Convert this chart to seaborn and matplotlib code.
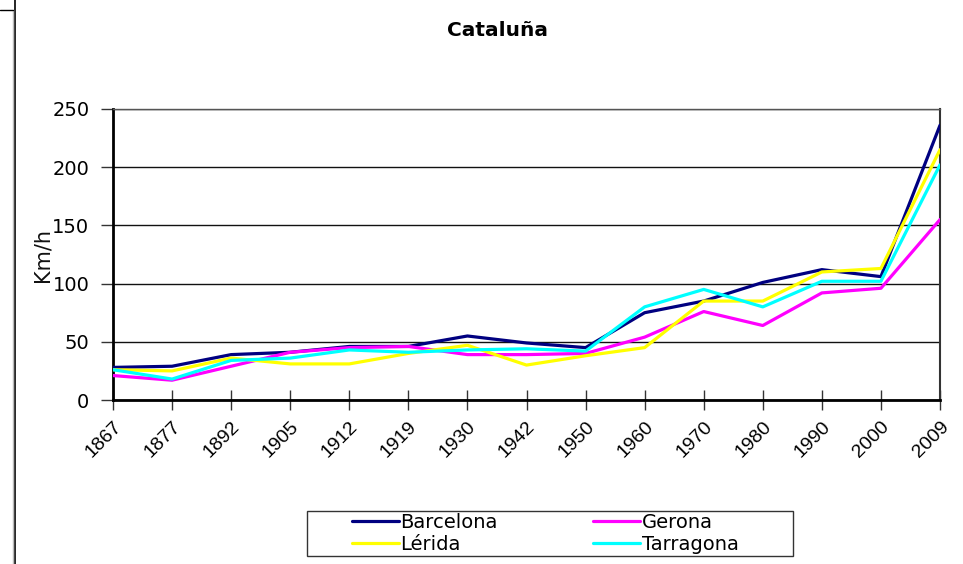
import matplotlib
matplotlib.use("Agg")
import matplotlib.pyplot as plt
from matplotlib.lines import Line2D
from matplotlib.patches import Rectangle
import seaborn as sns
import pandas as pd

years = ["1867", "1877", "1892", "1905", "1912", "1919", "1930", "1942",
         "1950", "1960", "1970", "1980", "1990", "2000", "2009"]
barcelona = [28, 29, 39, 41, 46, 46, 55, 49, 45, 75, 85, 101, 112, 106, 236]
gerona = [21, 17, 29, 41, 45, 46, 39, 39, 40, 54, 76, 64, 92, 96, 155]
lerida = [26, 25, 36, 31, 31, 40, 47, 30, 38, 45, 85, 85, 110, 113, 215]
tarragona = [26, 18, 34, 36, 43, 41, 43, 44, 42, 80, 95, 80, 102, 102, 202]

series = {"Barcelona": barcelona, "Gerona": gerona,
          "Lérida": lerida, "Tarragona": tarragona}
colors = {"Barcelona": "#000080", "Gerona": "#FF00FF",
          "Lérida": "#FFFF00", "Tarragona": "#00FFFF"}

rows = []
for name, vals in series.items():
    for i, v in enumerate(vals):
        rows.append({"pos": i, "Año": years[i], "Provincia": name, "Km/h": v})
df = pd.DataFrame(rows)

sns.set_theme(style="white")
plt.rcParams["font.family"] = ["DejaVu Sans"]
plt.rcParams["text.color"] = "black"
plt.rcParams["xtick.labelcolor"] = "black"
plt.rcParams["ytick.labelcolor"] = "black"

fig = plt.figure(figsize=(9.63, 5.64), dpi=100)
ax = fig.add_axes([113 / 963, 1 - 400 / 564, 827 / 963, 291 / 564])

sns.lineplot(data=df, x="pos", y="Km/h", hue="Provincia", palette=colors,
             hue_order=["Barcelona", "Gerona", "Lérida", "Tarragona"],
             linewidth=2.3, ax=ax, legend=False, zorder=3)

ax.set_xlim(0, len(years) - 1)
ax.set_ylim(0, 250)
ax.set_yticks(range(0, 251, 50))
ax.set_xticks(range(len(years)))
ax.set_xticklabels(years, rotation=45, ha="right", rotation_mode="anchor",
                   fontsize=14, family="Liberation Sans", color="black")
ax.tick_params(axis="y", labelsize=14, direction="out", length=9, width=1,
               color="#333333", labelcolor="black", left=True, pad=8)
ax.tick_params(axis="x", direction="inout", length=14, width=1,
               color="#333333", bottom=True, pad=6)
ax.grid(axis="y", color="#111111", linewidth=1)
ax.set_axisbelow(True)
for side in ["left", "bottom"]:
    ax.spines[side].set_color("black")
    ax.spines[side].set_linewidth(2)
ax.spines["right"].set_color("#333333")
ax.spines["right"].set_linewidth(1.5)
ax.spines["top"].set_color("#555555")
ax.spines["top"].set_linewidth(1)

ax.set_xlabel("")
ax.set_ylabel("")
fig.text(42 / 963, 1 - 255 / 564, "Km/h", rotation=90, ha="center",
         va="center", fontsize=15, color="#111111")

fig.text(497 / 963, 1 - 30 / 564, "Cataluña", ha="center", va="center",
         fontsize=14.5, fontweight="bold", color="black")

handles = [Line2D([], [], color=colors[n], linewidth=2.3) for n in
           ["Barcelona", "Lérida", "Gerona", "Tarragona"]]
labels = ["Barcelona", "Lérida", "Gerona", "Tarragona"]
leg = fig.legend(handles, labels, ncol=2, loc="center left",
                 bbox_to_anchor=(352 / 963, 1 - 533.5 / 564),
                 fontsize=14, frameon=False, borderpad=0,
                 handlelength=2.4, handletextpad=0.1, columnspacing=4.9,
                 labelspacing=0.15, borderaxespad=0)
for t in leg.get_texts():
    t.set_color("black")

# legend box
fig.add_artist(Rectangle((307 / 963, 1 - 556 / 564), 486 / 963, 45 / 564,
                         transform=fig.transFigure, fill=False,
                         edgecolor="#333333", linewidth=1))

# outer frame fragments on the left edge
fig.add_artist(Line2D([15 / 963, 15 / 963], [0, 1], color="black",
                      linewidth=1.2, transform=fig.transFigure))
fig.add_artist(Line2D([12.5 / 963, 12.5 / 963], [0, 1 - 10 / 564],
                      color="#bbbbbb", linewidth=1, transform=fig.transFigure))
fig.add_artist(Line2D([0, 13 / 963], [1 - 10 / 564, 1 - 10 / 564],
                      color="black", linewidth=1, transform=fig.transFigure))

fig.savefig("out.png", dpi=100)
